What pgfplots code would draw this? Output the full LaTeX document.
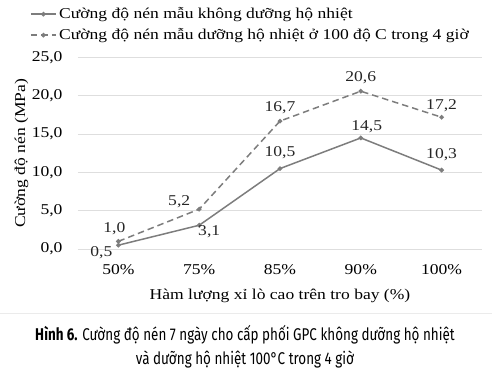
\documentclass[border=0pt]{standalone}
\usepackage{pgfplots}
\pgfplotsset{compat=1.18}
\usepackage{pgfplotstable}
\usepackage{fontspec}
\setmainfont{Liberation Serif}[FakeStretch=1.17]
\newfontfamily\capfont{Fira Sans}[FakeStretch=0.79]
\definecolor{chartgray}{RGB}{125,125,125}
\definecolor{gridgray}{RGB}{222,222,222}

\pgfplotstableread{
x y dx dy
0 0.5 -17 -7
1 3.1 10 -6
2 10.5 0 16
3 14.5 6 11
4 10.3 0 15
}\solid
\pgfplotstableread{
x y dx dy
0 1.0 -4 13
1 5.2 -20 7
2 16.7 0 13
3 20.6 0 14
4 17.2 0 12
}\heated

\begin{document}
\begin{tikzpicture}
\path[use as bounding box] (0,0) rectangle (492pt,-379pt);
\begin{axis}[
  at={(78pt,-249pt)}, anchor=south west,
  scale only axis, width=404pt, height=191.5pt,
  xmin=-0.5, xmax=4.5, ymin=0, ymax=25,
  xtick={0,1,2,3,4},
  xticklabels={50\%,75\%,85\%,90\%,100\%},
  ytick={0,5,10,15,20,25},
  /pgf/number format/assume math mode=true,
  /pgf/number format/fixed,
  /pgf/number format/fixed zerofill,
  /pgf/number format/precision=1,
  /pgf/number format/use comma,
  tick label style={font=\fontsize{15}{18}\selectfont},
  yticklabel style={xshift=-12pt},
  xticklabel style={yshift=-12pt},
  major tick length=0pt,
  axis line style={draw=none},
  ymajorgrids, grid style={gridgray, line width=0.8pt},
  ylabel={Cường độ nén (MPa)},
  ylabel style={font=\fontsize{15}{18}\selectfont, at={(axis description cs:-0.14,0.5)}, anchor=center},
  xlabel={Hàm lượng xỉ lò cao trên tro bay (\%)},
  xlabel style={font=\fontsize{15}{18}\selectfont, at={(axis description cs:0.5,-0.245)}, anchor=center},
  legend style={at={(axis description cs:-0.1188,1.264)}, anchor=north west, draw=none, fill=none,
    font=\fontsize{15}{18}\selectfont, inner sep=0pt, row sep=7pt,
    nodes={inner sep=0pt, text height=11pt, text depth=3pt}},
  legend cell align=left,
  /tikz/every odd column/.append style={column sep=2.5pt},
  legend image code/.code={\draw[#1, mark=none] (0pt,0pt) -- (25pt,0pt); \path[#1, only marks] plot coordinates {(12.5pt,0pt)};},
  nodes near coords={\pgfmathprintnumber{\pgfplotspointmeta}},
  visualization depends on={\thisrow{dx} \as \dx},
  visualization depends on={\thisrow{dy} \as \dy},
  every node near coord/.append style={anchor=center, xshift=\dx pt, yshift=\dy pt, font=\fontsize{15}{18}\selectfont, text=black!85},
  clip=false,
]
\addplot[chartgray, line width=1.5pt, mark=*, mark size=1.5pt] table[x=x,y=y] {\solid};
\addlegendentry{Cường độ nén mẫu không dưỡng hộ nhiệt}
\addplot[chartgray, line width=1.5pt, dash pattern=on 6.5pt off 4pt, mark=*, mark size=1.5pt, mark options={solid}] table[x=x,y=y] {\heated};
\addlegendentry{Cường độ nén mẫu dưỡng hộ nhiệt ở 100 độ C trong 4 giờ}
\end{axis}
\draw[gridgray!60, line width=0.6pt] (0pt,-313pt) -- (492pt,-313pt);
\node[font=\capfont\fontsize{17}{24}\selectfont, align=center, anchor=center] at (245pt,-347pt)
  {\textbf{Hình 6.} Cường độ nén 7 ngày cho cấp phối GPC không dưỡng hộ nhiệt\\ và dưỡng hộ nhiệt 100°C trong 4 giờ};
\end{tikzpicture}
\end{document}
